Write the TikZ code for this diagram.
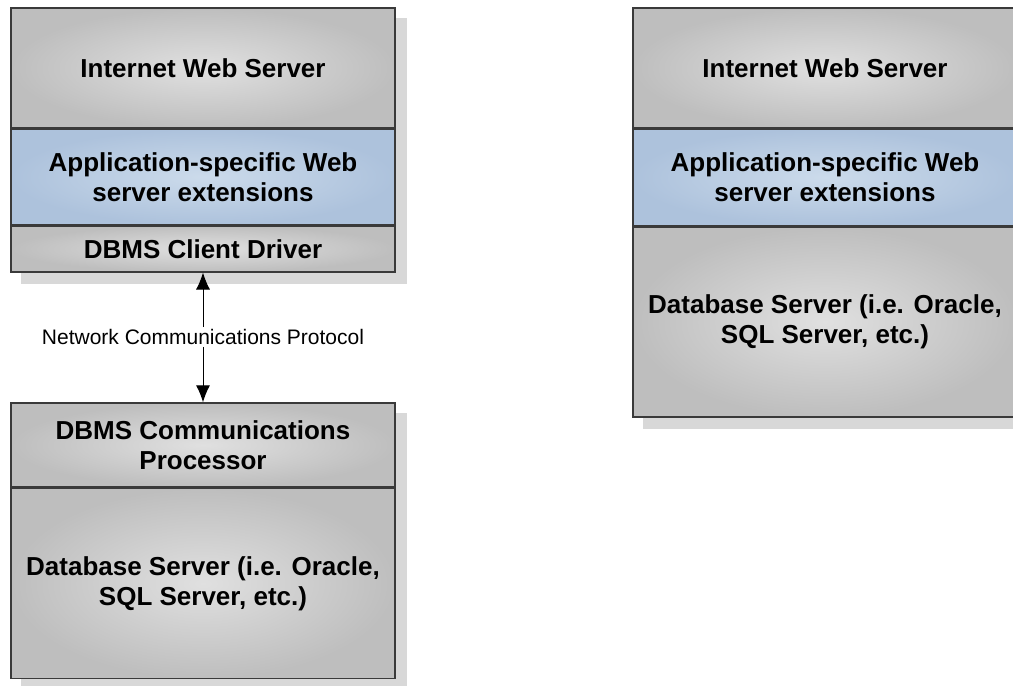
\documentclass[tikz,border=0pt]{standalone}
\usepackage{fontspec}
\setmainfont{Liberation Sans}
\usetikzlibrary{arrows.meta,positioning,fit,backgrounds}

\definecolor{edgegray}{HTML}{3A3A3A}
\definecolor{grayout}{HTML}{BEBEBE}
\definecolor{grayin}{HTML}{E0E0E0}
\definecolor{blueout}{HTML}{ADC2DC}
\definecolor{bluein}{HTML}{CCDBEB}
\definecolor{shadowgray}{HTML}{D8D8D8}

\begin{document}
\begin{tikzpicture}[x=1pt,y=1pt,>={Latex[length=17pt,width=14pt]}]
        \tikzset{block/.style={draw=edgegray,
                line width=1.4pt,
                shape=rectangle,
                align=center,
                minimum width=384pt,
                inner sep=0pt,
                shading=radial,
                inner color=grayin,
                outer color=grayout,
                font=\fontsize{26}{30}\selectfont\bfseries
            },
            extblock/.style={block,
                inner color=bluein,
                outer color=blueout
            },
            shadowbox/.style={fill=shadowgray,
                inner sep=0pt,
                xshift=11pt,
                yshift=-11pt
            },
            protolabel/.style={font=\fontsize{21}{24}\selectfont,
                inner sep=2pt
            },
        }
\useasboundingbox (0,0) rectangle (1013,-686);
        %% two tier setup (left)
        \node [block, minimum height=120pt] (webleft) at (203,-68)
            {Internet Web Server};
        \node [extblock, minimum height=95pt, below =0pt of webleft] (extleft)
            {Application-specific Web\\server extensions};
        \node [block, minimum height=46pt, below =0pt of extleft] (driver)
            {DBMS Client Driver};
        \node [protolabel] (proto) at (203,-337)
            {Network Communications Protocol};
        \node [block, minimum height=84pt] (commproc) at (203,-445)
            {DBMS Communications\\Processor};
        \node [block, minimum height=190pt, below =0pt of commproc] (dbleft)
            {Database Server (i.e. Oracle,\\SQL Server, etc.)};
        %% single tier setup (right)
        \node [block, minimum height=120pt] (webright) at (825,-68)
            {Internet Web Server};
        \node [extblock, minimum height=96pt, below =0pt of webright] (extright)
            {Application-specific Web\\server extensions};
        \node [block, minimum height=190pt, below =0pt of extright] (dbright)
            {Database Server (i.e. Oracle,\\SQL Server, etc.)};
%% shadows
\begin{scope}[on background layer]
    \node [shadowbox, fit=(webleft)(driver)] (shadowtop) {};
    \node [shadowbox, fit=(commproc)(dbleft)] (shadowbottom) {};
    \node [shadowbox, fit=(webright)(dbright)] (shadowright) {};
\end{scope}
%% paths
\path[draw=black,line width=1pt,->]
    (proto) edge (driver)
    (proto) edge (commproc)
;
\end{tikzpicture}
\end{document}
